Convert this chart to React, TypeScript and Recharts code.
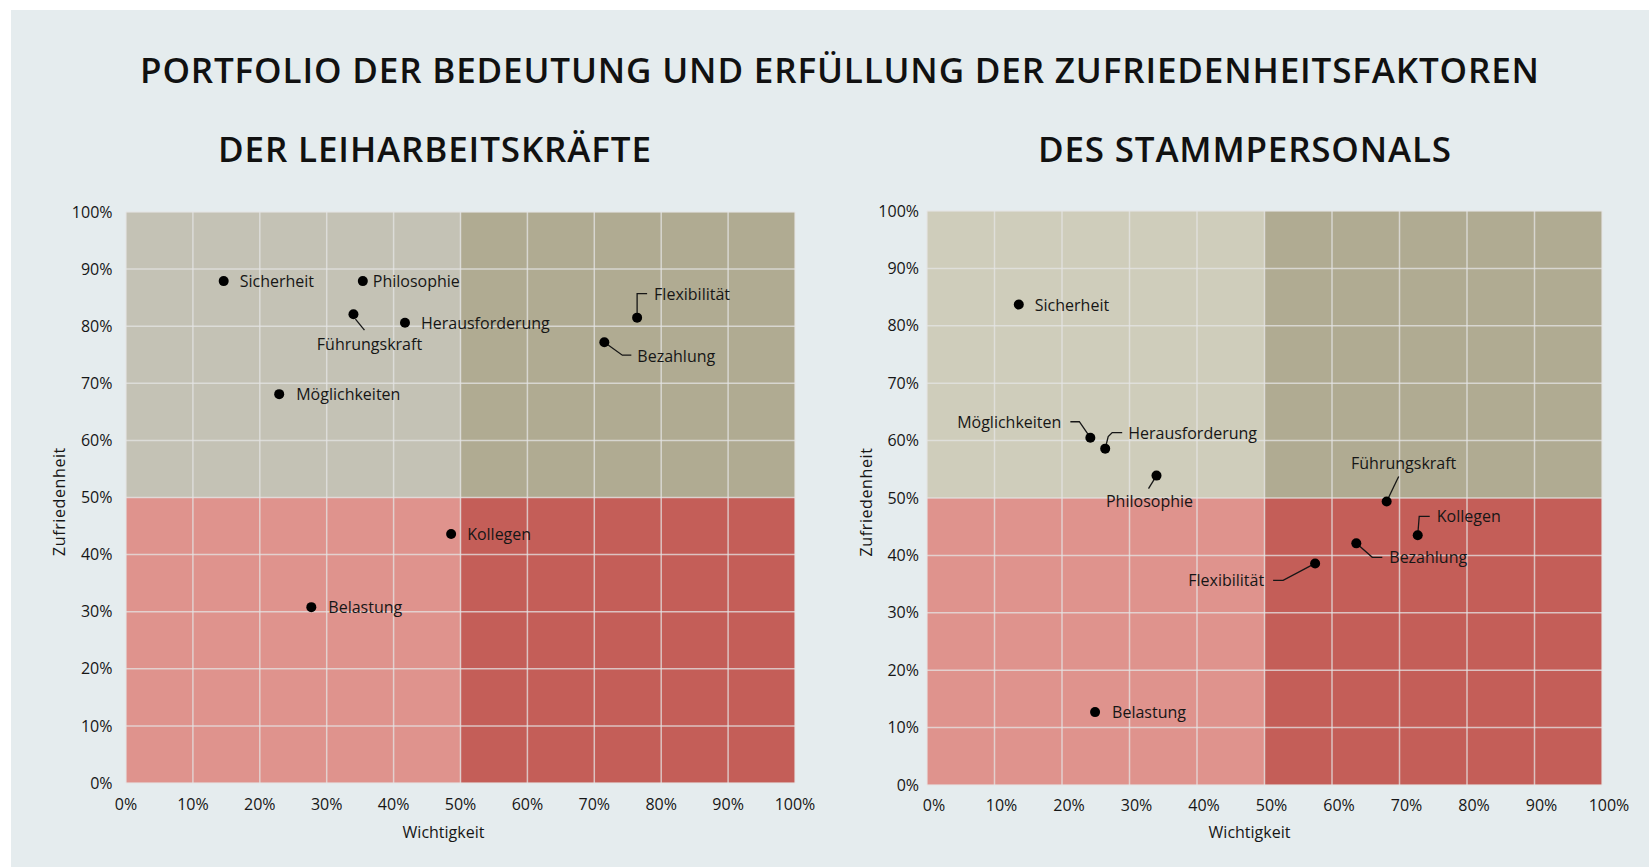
import React from "react";
import {
  ScatterChart,
  Scatter,
  XAxis,
  YAxis,
  CartesianGrid,
  ReferenceArea,
} from "recharts";

const factors = [
  "Sicherheit",
  "Philosophie",
  "Führungskraft",
  "Herausforderung",
  "Flexibilität",
  "Bezahlung",
  "Möglichkeiten",
  "Kollegen",
  "Belastung",
];

// Leiharbeitskräfte
const leihWichtigkeit = [14.6, 35.4, 34.0, 41.7, 76.4, 71.5, 22.9, 48.6, 27.7];
const leihZufriedenheit = [87.9, 87.9, 82.1, 80.6, 81.5, 77.2, 68.1, 43.6, 30.8];

// Stammpersonal
const stammWichtigkeit = [13.6, 34.0, 68.1, 26.4, 57.5, 63.6, 24.2, 72.7, 24.9];
const stammZufriedenheit = [83.7, 53.9, 49.4, 58.6, 38.6, 42.1, 60.5, 43.5, 12.7];

const percentTicks = [0, 10, 20, 30, 40, 50, 60, 70, 80, 90, 100];

const FONT = "'Open Sans', sans-serif";
const TEXT = "#161616";

type LabelPos = {
  dx: number;
  dy: number;
  anchor?: "start" | "middle" | "end";
  line?: number[][];
};

// label placement next to each dot (px relative to the dot)
const leihLabels: Record<string, LabelPos> = {
  Sicherheit: { dx: 16, dy: 0 },
  Philosophie: { dx: 10, dy: 0 },
  Führungskraft: { dx: 16, dy: 30, anchor: "middle", line: [[2, 5], [11, 16]] },
  Herausforderung: { dx: 16, dy: 0 },
  Flexibilität: { dx: 17, dy: -24, line: [[0, 0], [0, -24], [10, -24]] },
  Bezahlung: { dx: 33, dy: 14, line: [[0, 0], [18, 13], [27, 13]] },
  Möglichkeiten: { dx: 17, dy: 0 },
  Kollegen: { dx: 16, dy: 0 },
  Belastung: { dx: 17, dy: 0 },
};

const stammLabels: Record<string, LabelPos> = {
  Sicherheit: { dx: 16, dy: 0 },
  Philosophie: { dx: -7, dy: 25, anchor: "middle", line: [[0, 0], [-8, 13]] },
  Führungskraft: { dx: 17, dy: -38, anchor: "middle", line: [[0, 0], [12, -25]] },
  Herausforderung: { dx: 23, dy: -16, line: [[0, 0], [3, -12], [7, -16], [17, -16]] },
  Flexibilität: { dx: -51, dy: 17, anchor: "end", line: [[0, 0], [-32, 17], [-42, 17]] },
  Bezahlung: { dx: 33, dy: 14, line: [[0, 0], [16, 14], [26, 14]] },
  Möglichkeiten: { dx: -29, dy: -16, anchor: "end", line: [[0, 0], [-11, -16], [-20, -16]] },
  Kollegen: { dx: 19, dy: -19, line: [[0, 0], [1.5, -19], [12, -19]] },
  Belastung: { dx: 17, dy: 0 },
};

const leihData = factors.map((name, i) => ({
  name,
  x: leihWichtigkeit[i],
  y: leihZufriedenheit[i],
}));

const stammData = factors.map((name, i) => ({
  name,
  x: stammWichtigkeit[i],
  y: stammZufriedenheit[i],
}));

const makeDot = (labels: Record<string, LabelPos>) => (props: any) => {
  const { cx, cy, payload } = props;
  const pos = labels[payload.name] || { dx: 16, dy: 0 };
  const pts = pos.line
    ? pos.line.map((p) => `${cx + p[0]},${cy + p[1]}`).join(" ")
    : null;
  return (
    <g>
      {pts && (
        <polyline points={pts} fill="none" stroke={TEXT} strokeWidth={1.3} />
      )}
      <circle cx={cx} cy={cy} r={5} fill="#000" />
      <text
        x={cx + pos.dx}
        y={cy + pos.dy + 6}
        textAnchor={pos.anchor || "start"}
        fontFamily={FONT}
        fontSize={16}
        fill={TEXT}
      >
        {payload.name}
      </text>
    </g>
  );
};

const xLabel = (dx: number, offset: number) => (props: any) => {
  const vb = props.viewBox;
  return (
    <text
      x={vb.x + vb.width / 2 + dx}
      y={vb.y + vb.height - offset}
      textAnchor="middle"
      fontFamily={FONT}
      fontSize={16}
      fill={TEXT}
    >
      Wichtigkeit
    </text>
  );
};

const yLabel = (offset: number) => (props: any) => {
  const vb = props.viewBox;
  const x = vb.x + offset;
  const y = vb.y + vb.height / 2 + 4;
  return (
    <text
      x={x}
      y={y}
      transform={`rotate(-90, ${x}, ${y})`}
      textAnchor="middle"
      dominantBaseline="central"
      fontFamily={FONT}
      fontSize={16}
      letterSpacing={0.6}
      fill={TEXT}
    >
      Zufriedenheit
    </text>
  );
};

interface PortfolioProps {
  data: { name: string; x: number; y: number }[];
  labels: Record<string, LabelPos>;
  width: number;
  height: number;
  topLeft: string;
  yTickMargin: number;
  xTickMargin: number;
  xTickDx: number;
  xLabelDx: number;
  xLabelOffset: number;
  yLabelOffset: number;
}

function Portfolio({
  data,
  labels,
  width,
  height,
  topLeft,
  yTickMargin,
  xTickMargin,
  xTickDx,
  xLabelDx,
  xLabelOffset,
  yLabelOffset,
}: PortfolioProps) {
  const tickStyle = { fontFamily: FONT, fontSize: 16, fill: TEXT };
  return (
    <ScatterChart
      width={width}
      height={height}
      margin={{ top: 10, right: 30, bottom: 10, left: 0 }}
    >
      <ReferenceArea x1={0} x2={50} y1={50} y2={100} fill={topLeft} fillOpacity={1} stroke="none" zIndex={-200} />
      <ReferenceArea x1={50} x2={100} y1={50} y2={100} fill="#b0ab92" fillOpacity={1} stroke="none" zIndex={-200} />
      <ReferenceArea x1={0} x2={50} y1={0} y2={50} fill="#df938d" fillOpacity={1} stroke="none" zIndex={-200} />
      <ReferenceArea x1={50} x2={100} y1={0} y2={50} fill="#c45e58" fillOpacity={1} stroke="none" zIndex={-200} />
      <CartesianGrid stroke="#e4e4e4" strokeOpacity={0.75} strokeWidth={1.5} zIndex={-100} />
      <XAxis
        type="number"
        dataKey="x"
        domain={[0, 100]}
        ticks={percentTicks}
        tickFormatter={(v) => `${v}%`}
        axisLine={false}
        tickLine={false}
        tickSize={0}
        tickMargin={xTickMargin}
        tick={{ ...tickStyle, dx: xTickDx }}
        height={60}
        interval={0}
        label={{ content: xLabel(xLabelDx, xLabelOffset) }}
      />
      <YAxis
        type="number"
        dataKey="y"
        domain={[0, 100]}
        ticks={percentTicks}
        tickFormatter={(v) => `${v}%`}
        axisLine={false}
        tickLine={false}
        tickSize={0}
        tickMargin={yTickMargin}
        tick={tickStyle}
        width={90}
        interval={0}
        label={{ content: yLabel(yLabelOffset) }}
      />
      <Scatter
        data={data}
        shape={makeDot(labels)}
        isAnimationActive={false}
      />
    </ScatterChart>
  );
}

export default function App() {
  return (
    <div
      style={{
        position: "absolute",
        left: 0,
        top: 0,
        width: 1649,
        height: 867,
        background: "#ffffff",
        overflow: "hidden",
      }}
    >
      <div
        style={{
          position: "absolute",
          left: 11,
          top: 10,
          right: 0,
          bottom: 0,
          background: "#e5ecee",
        }}
      />

      <svg
        width={1649}
        height={180}
        style={{ position: "absolute", left: 0, top: 0 }}
      >
        <text
          x={140}
          y={83}
          textLength={1399}
          lengthAdjust="spacing"
          fontFamily={FONT}
          fontSize={35}
          fontWeight={600}
          fill="#111"
        >
          PORTFOLIO DER BEDEUTUNG UND ERFÜLLUNG DER ZUFRIEDENHEITSFAKTOREN
        </text>
        <text
          x={218}
          y={162}
          textLength={433}
          lengthAdjust="spacing"
          fontFamily={FONT}
          fontSize={35}
          fontWeight={600}
          fill="#111"
        >
          DER LEIHARBEITSKRÄFTE
        </text>
        <text
          x={1038}
          y={162}
          textLength={413}
          lengthAdjust="spacing"
          fontFamily={FONT}
          fontSize={35}
          fontWeight={600}
          fill="#111"
        >
          DES STAMMPERSONALS
        </text>
      </svg>

      <div style={{ position: "absolute", left: 35.6, top: 201.7 }}>
        <Portfolio
          data={leihData}
          labels={leihLabels}
          width={789}
          height={651}
          topLeft="#c4c2b5"
          yTickMargin={13.5}
          xTickMargin={16}
          xTickDx={0}
          xLabelDx={-17}
          xLabelOffset={5}
          yLabelOffset={22.5}
        />
      </div>

      <div style={{ position: "absolute", left: 836.7, top: 200.7 }}>
        <Portfolio
          data={stammData}
          labels={stammLabels}
          width={795}
          height={654}
          topLeft="#cfcdbb"
          yTickMargin={8}
          xTickMargin={14.5}
          xTickDx={7}
          xLabelDx={-15}
          xLabelOffset={7}
          yLabelOffset={29.3}
        />
      </div>
    </div>
  );
}
